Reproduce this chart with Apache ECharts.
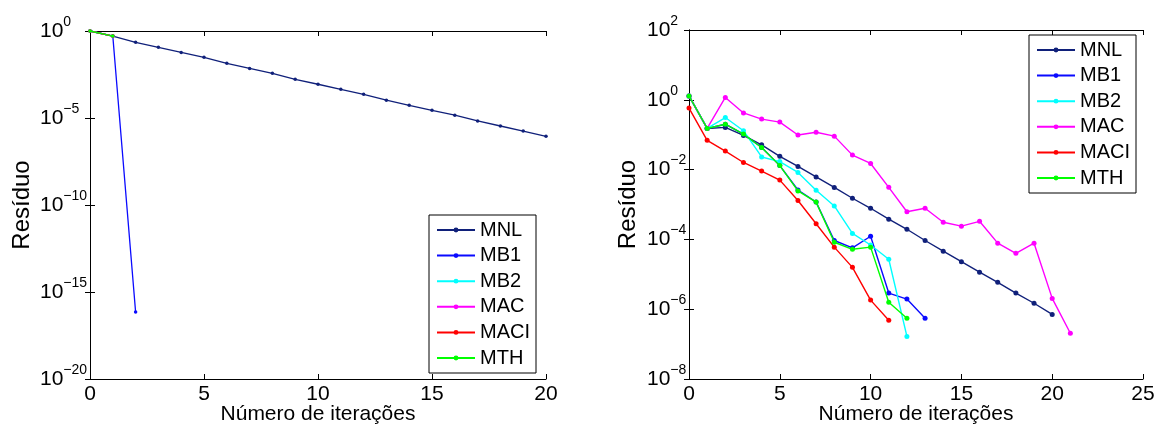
<!DOCTYPE html>
<html><head><meta charset="utf-8">
<script src="https://cdn.jsdelivr.net/npm/echarts@6/dist/echarts.min.js"></script>
<style>html,body{margin:0;padding:0;background:#fff}#c{width:1158px;height:425px}</style>
</head><body><div id="c"></div>
<script>
// ---------- data ----------
const seriesNames = ['MNL', 'MB1', 'MB2', 'MAC', 'MACI', 'MTH'];
const seriesColors = ['#10207a', '#0a0aff', '#00ffff', '#ff00ff', '#ff0000', '#00ff00'];

// Left panel (iteration index = array index)
const leftMNL = [1, 0.513, 0.224, 0.115, 0.0589, 0.0309, 0.0138, 0.00708, 0.00372, 0.00166, 8.7e-4, 4.47e-4, 2.29e-4, 1.05e-4, 5.37e-5, 2.75e-5, 1.45e-5, 6.76e-6, 3.47e-6, 1.78e-6, 8.9e-7];
const leftMB1 = [1, 0.513, 7.1e-17];
const leftMB2 = [1, 0.513];
const leftMAC = [1, 0.513];
const leftMACI = [1, 0.513];
const leftMTH = [1, 0.513];

// Right panel
const rightMNL = [1.29, 0.151, 0.162, 0.0955, 0.0513, 0.024, 0.0123, 0.00617, 0.00309, 0.00151, 7.8e-4, 3.8e-4, 1.95e-4, 9.3e-5, 4.6e-5, 2.3e-5, 1.15e-5, 5.9e-6, 2.9e-6, 1.48e-6, 7.1e-7];
const rightMB1 = [1.29, 0.151, 0.2, 0.104, 0.043, 0.013, 0.0026, 0.00117, 9.3e-5, 5.75e-5, 1.23e-4, 2.9e-6, 1.95e-6, 5.5e-7];
const rightMB2 = [1.29, 0.151, 0.31, 0.13, 0.023, 0.017, 0.0083, 0.00257, 9.1e-4, 1.48e-4, 6.9e-5, 2.7e-5, 1.66e-7];
const rightMAC = [1.29, 0.151, 1.17, 0.42, 0.28, 0.23, 0.098, 0.118, 0.091, 0.026, 0.015, 0.0031, 6.2e-4, 7.8e-4, 3.1e-4, 2.4e-4, 3.3e-4, 7.8e-5, 4.0e-5, 7.8e-5, 2.04e-6, 2.04e-7];
const rightMACI = [0.58, 0.069, 0.034, 0.016, 0.0091, 0.005, 0.0013, 2.8e-4, 6.0e-5, 1.58e-5, 1.82e-6, 4.8e-7];
const rightMTH = [1.29, 0.151, 0.2, 0.104, 0.043, 0.013, 0.00245, 0.00117, 8.3e-5, 5.2e-5, 6.0e-5, 1.58e-6, 5.5e-7];

const xAxisName = 'Número de iterações';
const yAxisName = 'Resíduo';
const leftXTicks = {min: 0, max: 20, interval: 5};
const rightXTicks = {min: 0, max: 25, interval: 5};
const leftYRange = {min: 1e-20, max: 1, interval: 5};
const rightYRange = {min: 1e-8, max: 100, interval: 2};

// ---------- chart ----------
const leftData = [leftMNL, leftMB1, leftMB2, leftMAC, leftMACI, leftMTH];
const rightData = [rightMNL, rightMB1, rightMB2, rightMAC, rightMACI, rightMTH];
const FONT = 'Liberation Sans, Arial, sans-serif';

function logLabel(v) {
  const e = Math.round(Math.log10(v));
  return '{b|10}{s|' + (e < 0 ? '\u2212' + (-e) : e) + '}';
}
const richLbl = {
  b: {fontSize: 21, fontFamily: FONT, color: '#000', lineHeight: 32, verticalAlign: 'middle'},
  s: {fontSize: 14, fontFamily: FONT, color: '#000', lineHeight: 14, verticalAlign: 'top'}
};
const lineAx = {lineStyle: {color: '#000', width: 1}};
const tickIn = {inside: true, length: 5, lineStyle: {color: '#000'}};

function xAxes(gi, t) {
  return [
    {type: 'value', gridIndex: gi, min: t.min, max: t.max, interval: t.interval,
     axisLine: lineAx, axisTick: tickIn, splitLine: {show: false},
     axisLabel: {color: '#000', fontSize: 21, fontFamily: FONT, margin: 5},
     name: xAxisName, nameLocation: 'middle', nameGap: 25, nameMoveOverlap: false,
     nameTextStyle: {color: '#000', fontSize: 21, fontFamily: FONT}},
    {type: 'value', gridIndex: gi, position: 'top', min: t.min, max: t.max, interval: t.interval,
     axisLine: lineAx, axisTick: tickIn, splitLine: {show: false}, axisLabel: {show: false}}
  ];
}
function yAxes(gi, r, margin, nameGap) {
  return [
    {type: 'log', logBase: 10, gridIndex: gi, min: r.min, max: r.max, interval: r.interval,
     axisLine: lineAx, axisTick: tickIn, minorTick: {show: false}, splitLine: {show: false},
     axisLabel: {formatter: logLabel, rich: richLbl, align: 'left', margin: margin},
     name: yAxisName, nameLocation: 'middle', nameGap: nameGap, nameRotate: 90, nameMoveOverlap: false,
     nameTextStyle: {color: '#000', fontSize: 24, fontFamily: FONT}},
    {type: 'log', logBase: 10, gridIndex: gi, position: 'right', min: r.min, max: r.max, interval: r.interval,
     axisLine: lineAx, axisTick: tickIn, splitLine: {show: false}, axisLabel: {show: false}}
  ];
}
function mkSeries(arrs, xi, yi, sym, lw) {
  return arrs.map((a, k) => ({
    name: seriesNames[k], type: 'line', xAxisIndex: xi, yAxisIndex: yi,
    data: a.map((v, i) => [i, v]),
    symbol: 'circle', symbolSize: sym, showSymbol: true,
    lineStyle: {color: seriesColors[k], width: lw},
    itemStyle: {color: seriesColors[k]},
    animation: false, clip: false, z: 2 + k
  }));
}
function mkLegend(left, top) {
  return {
    data: seriesNames, orient: 'vertical', left: left, top: top,
    backgroundColor: '#fff', borderColor: '#000', borderWidth: 1,
    padding: [5, 6, 5, 7], itemWidth: 38, itemHeight: 6, itemGap: 5.6,
    textStyle: {fontSize: 20, fontFamily: FONT, color: '#000', lineHeight: 20},
    selectedMode: false
  };
}

const chart = echarts.init(document.getElementById('c'), null, {renderer: 'canvas'});
chart.setOption({
  animation: false,
  backgroundColor: '#fff',
  grid: [
    {left: 90, top: 31, width: 456, height: 348, containLabel: false, outerBoundsMode: 'none'},
    {left: 689, top: 30, width: 454, height: 349, containLabel: false, outerBoundsMode: 'none'}
  ],
  xAxis: [...xAxes(0, leftXTicks), ...xAxes(1, rightXTicks)],
  yAxis: [...yAxes(0, leftYRange, 50, 56), ...yAxes(1, rightYRange, 42, 49)],
  legend: [mkLegend(429, 215), mkLegend(1029, 35)],
  series: [...mkSeries(leftData, 0, 0, 3.5, 1.3), ...mkSeries(rightData, 2, 2, 5, 1.4)]
});
</script></body></html>
